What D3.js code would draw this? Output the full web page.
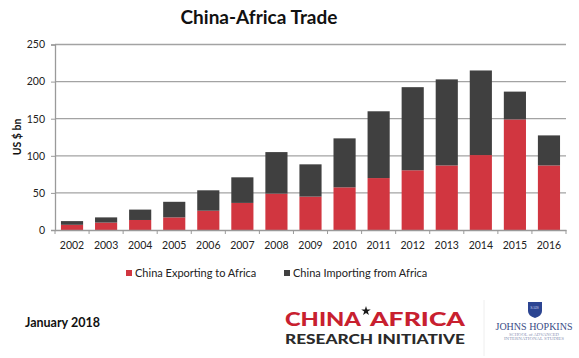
<!DOCTYPE html>
<html><head><meta charset="utf-8">
<script src="https://cdn.jsdelivr.net/npm/d3@7"></script>
<style>body{margin:0;background:#fff}svg{display:block}</style>
</head><body>
<script>
const years = ["2002","2003","2004","2005","2006","2007","2008","2009","2010","2011","2012","2013","2014","2015","2016"];
const exportsToAfrica = [7,10,13.5,17,26,36.5,49,45,57.5,70,80.5,87,101,149,87];
const importsFromAfrica = [5,7,14,21,27.5,34.5,56,43.5,66,90,112,116,114,37.5,40.5];
const yTicks = [0,50,100,150,200,250];
const seriesNames = ["China Exporting to Africa","China Importing from Africa"];
const colors = ["#d13640","#404040"];

const W=579,H=358;
const svg=d3.select("body").append("svg").attr("width",W).attr("height",H);
const font="Lato, 'Open Sans', sans-serif";

const x=d3.scaleBand().domain(years).range([55,566]).paddingInner(0.35).paddingOuter(0.175);
const y=d3.scaleLinear().domain([0,250]).range([230,44.5]);

// title
svg.append("text").attr("x",259).attr("y",24).attr("text-anchor","middle")
  .attr("font-family",font).attr("font-weight",700).attr("font-size",19).attr("fill","#111")
  .text("China-Africa Trade");

// gridlines
svg.append("g").selectAll("line").data(yTicks.filter(d=>d>0)).join("line")
  .attr("x1",55).attr("x2",566).attr("y1",d=>y(d)).attr("y2",d=>y(d))
  .attr("stroke","#a3a3a3").attr("stroke-width",1.3);

// y axis
const ya=svg.append("g").attr("transform","translate(55,0)")
  .call(d3.axisLeft(y).tickValues(yTicks).tickSize(4).tickPadding(6));
ya.select(".domain").attr("stroke","#9a9a9a").attr("stroke-width",1.3);
ya.selectAll(".tick line").attr("stroke","#9a9a9a");
ya.selectAll(".tick text").attr("font-family",font).attr("font-size",10.5).attr("fill","#222");

svg.append("text").attr("transform","translate(21,137) rotate(-90)").attr("text-anchor","middle")
  .attr("font-family",font).attr("font-weight",700).attr("font-size",10.5).attr("fill","#111").text("US $ bn");

// stacked bars
const rows=years.map((yr,i)=>({year:yr,exp:exportsToAfrica[i],imp:importsFromAfrica[i]}));
const stack=d3.stack().keys(["exp","imp"])(rows);
svg.append("g").selectAll("g").data(stack).join("g").attr("fill",(d,i)=>colors[i])
  .selectAll("rect").data(d=>d).join("rect")
  .attr("x",d=>x(d.data.year)).attr("width",x.bandwidth())
  .attr("y",d=>y(d[1])).attr("height",d=>y(d[0])-y(d[1]));

// x axis
const xa=svg.append("g").attr("transform","translate(0,230)")
  .call(d3.axisBottom(x).tickSize(0).tickPadding(12));
xa.select(".domain").attr("stroke","#9a9a9a").attr("stroke-width",1.3);
xa.selectAll(".tick text").attr("font-family",font).attr("font-size",10.5).attr("fill","#222");
const step=x.step();
svg.append("g").selectAll("line").data(d3.range(years.length+1)).join("line")
  .attr("x1",i=>55+i*step).attr("x2",i=>55+i*step).attr("y1",230).attr("y2",234)
  .attr("stroke","#9a9a9a");

// legend
const lg=[{x:126,tx:135},{x:284,tx:293}];
seriesNames.forEach((n,i)=>{
  svg.append("rect").attr("x",lg[i].x).attr("y",270).attr("width",6).attr("height",6).attr("fill",colors[i]);
  svg.append("text").attr("x",lg[i].tx).attr("y",277).attr("font-family",font).attr("font-size",11).attr("fill","#222").text(n);
});

// footer date
svg.append("text").attr("x",25).attr("y",327).attr("font-family",font).attr("font-weight",700)
  .attr("font-size",12.5).attr("fill","#111").text("January 2018");

// CARI logo
const heavy="Lato, 'DejaVu Sans', sans-serif";
svg.append("text").attr("x",285).attr("y",326).attr("font-family",heavy).attr("font-weight",900)
  .attr("font-size",19.5).attr("fill","#c8202f").attr("textLength",76).attr("lengthAdjust","spacingAndGlyphs").text("CHINA");
svg.append("text").attr("x",370).attr("y",326).attr("font-family",heavy).attr("font-weight",900)
  .attr("font-size",19.5).attr("fill","#c8202f").attr("textLength",95).attr("lengthAdjust","spacingAndGlyphs").text("AFRICA");
svg.append("path").attr("d",d3.symbol(d3.symbolStar,28)()).attr("transform","translate(366,311)").attr("fill","#1a1a1a");
svg.append("text").attr("x",285).attr("y",343.5).attr("font-family",heavy).attr("font-weight",900)
  .attr("font-size",13.5).attr("fill","#2a2a2a").attr("textLength",180).attr("lengthAdjust","spacingAndGlyphs").text("RESEARCH INITIATIVE");

// separator
svg.append("line").attr("x1",484).attr("x2",484).attr("y1",300).attr("y2",356).attr("stroke","#eee");

// JHU SAIS logo
svg.append("path").attr("d","M528,302 L542,302 L542,311 Q542,316 535,318 Q528,316 528,311 Z").attr("fill","#2c4592");
svg.append("text").attr("x",534.5).attr("y",309).attr("text-anchor","middle").attr("font-family","Liberation Serif, serif")
  .attr("font-size",4).attr("fill","#cfd8f0").text("SAIS");
svg.append("text").attr("x",534).attr("y",330).attr("text-anchor","middle").attr("font-family","'Liberation Serif', serif")
  .attr("font-size",10).attr("fill","#3a4c86").attr("textLength",77).attr("lengthAdjust","spacingAndGlyphs").text("JOHNS HOPKINS");
svg.append("text").attr("x",534).attr("y",335.5).attr("text-anchor","middle").attr("font-family","'Liberation Serif', serif")
  .attr("font-size",4).attr("fill","#8a93b4").attr("textLength",50).attr("lengthAdjust","spacingAndGlyphs").text("SCHOOL of ADVANCED");
svg.append("text").attr("x",534).attr("y",340).attr("text-anchor","middle").attr("font-family","'Liberation Serif', serif")
  .attr("font-size",4).attr("fill","#8a93b4").attr("textLength",60).attr("lengthAdjust","spacingAndGlyphs").text("INTERNATIONAL STUDIES");
</script>
</body></html>
